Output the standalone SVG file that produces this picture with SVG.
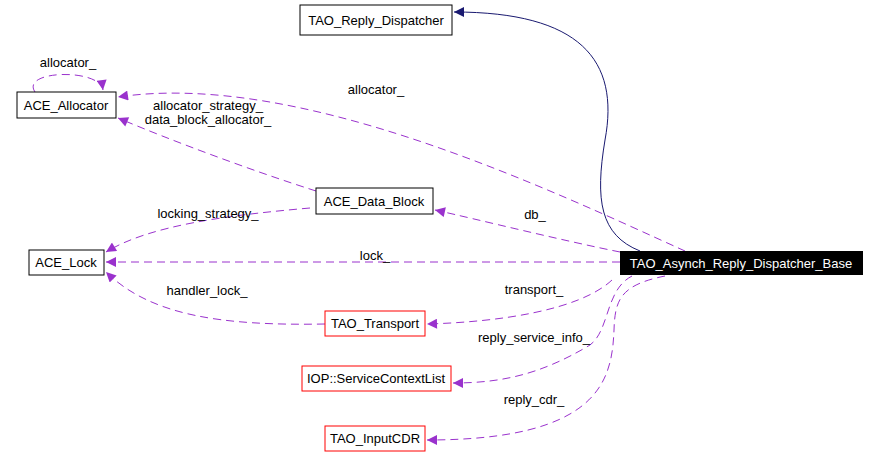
<svg xmlns="http://www.w3.org/2000/svg" width="880" height="470" viewBox="0 0 880 470">
<style>
text{font-family:"Liberation Sans",Arial,sans-serif;font-size:13px;fill:#000}
.n rect{fill:#fff;stroke:#000;stroke-width:1}
.r rect{stroke:#f00}
.e{fill:none;stroke:#9a32cd;stroke-dasharray:8,5}
</style>
<defs>
<marker id="p" viewBox="0 0 10 10" refX="10" refY="5" markerWidth="12" markerHeight="10" markerUnits="userSpaceOnUse" orient="auto"><path d="M0,0L10,5L0,10z" fill="#9a32cd"/></marker>
<marker id="b" viewBox="0 0 10 10" refX="10" refY="5" markerWidth="12" markerHeight="10" markerUnits="userSpaceOnUse" orient="auto"><path d="M0,0L10,5L0,10z" fill="#191970"/></marker>
</defs>
<g id="edges">
<path d="M640,251 C600,235 595,200 605,140 C620,60 580,12 454,12" fill="none" stroke="#191970" marker-end="url(#b)"/>
<path class="e" d="M35,92 C20,70 100,68 103,90" marker-end="url(#p)"/>
<path class="e" d="M685,251 C550,190 300,70 118,97" marker-end="url(#p)"/>
<path class="e" d="M316,191 C250,170 170,140 118,118" marker-end="url(#p)"/>
<path class="e" d="M310,208 C230,215 150,225 106,252" marker-end="url(#p)"/>
<path class="e" d="M620,262 L106,262" marker-end="url(#p)"/>
<path class="e" d="M325,324 C220,326 150,315 106,272" marker-end="url(#p)"/>
<path class="e" d="M620,252 C560,240 480,220 435,210" marker-end="url(#p)"/>
<path class="e" d="M612,280 C580,310 500,322 427,324" marker-end="url(#p)"/>
<path class="e" d="M632,276 C605,290 610,330 590,345 C540,375 500,383 453,383" marker-end="url(#p)"/>
<path class="e" d="M665,276 C620,285 615,300 614,330 C612,380 600,440 427,440" marker-end="url(#p)"/>
</g>
<g id="TAO_Reply_Dispatcher" class="n"><rect x="300" y="5" width="152" height="30"/><text x="376" y="25" text-anchor="middle">TAO_Reply_Dispatcher</text></g>
<g id="ACE_Allocator" class="n"><rect x="17" y="92" width="99" height="26"/><text x="66" y="110" text-anchor="middle">ACE_Allocator</text></g>
<g id="ACE_Data_Block" class="n"><rect x="316" y="188" width="117" height="26"/><text x="374" y="206" text-anchor="middle">ACE_Data_Block</text></g>
<g id="ACE_Lock" class="n"><rect x="29" y="250" width="75" height="25"/><text x="66" y="267" text-anchor="middle">ACE_Lock</text></g>
<g id="TAO_Asynch_Reply_Dispatcher_Base"><rect x="620" y="251" width="243" height="24" fill="#000"/><text x="741" y="268" text-anchor="middle" style="fill:#fff">TAO_Asynch_Reply_Dispatcher_Base</text></g>
<g id="TAO_Transport" class="n r"><rect x="325" y="311" width="100" height="25"/><text x="375" y="328" text-anchor="middle">TAO_Transport</text></g>
<g id="IOP_ServiceContextList" class="n r"><rect x="302" y="366" width="149" height="25"/><text x="376" y="383" text-anchor="middle">IOP::ServiceContextList</text></g>
<g id="TAO_InputCDR" class="n r"><rect x="325" y="426" width="100" height="25"/><text x="375" y="443" text-anchor="middle">TAO_InputCDR</text></g>
<g id="labels">
<text x="68" y="67" text-anchor="middle">allocator_</text>
<text x="376" y="94" text-anchor="middle">allocator_</text>
<text x="208" y="110" text-anchor="middle">allocator_strategy_</text>
<text x="208" y="124" text-anchor="middle">data_block_allocator_</text>
<text x="208" y="218" text-anchor="middle">locking_strategy_</text>
<text x="535" y="219" text-anchor="middle">db_</text>
<text x="375" y="260" text-anchor="middle">lock_</text>
<text x="207" y="295" text-anchor="middle">handler_lock_</text>
<text x="534" y="294" text-anchor="middle">transport_</text>
<text x="534" y="342" text-anchor="middle">reply_service_info_</text>
<text x="534" y="404" text-anchor="middle">reply_cdr_</text>
</g>
</svg>
